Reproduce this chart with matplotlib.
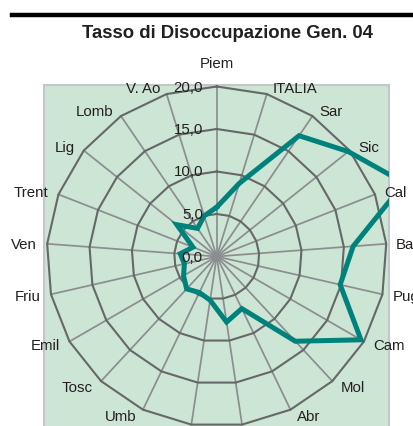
import numpy as np
import matplotlib
matplotlib.use("Agg")
import matplotlib.pyplot as plt
from matplotlib.lines import Line2D

plt.rcParams['font.family'] = ['Liberation Sans', 'DejaVu Sans']

# dati (ordine orario a partire da Piem)
regioni = ['Piem', 'ITALIA', 'Sar', 'Sic', 'Cal', 'Bas', 'Pug', 'Cam', 'Mol', 'Abr',
           'Laz', 'Mar', 'Umb', 'Tosc', 'Emil', 'Friu', 'Ven', 'Trent', 'Lig', 'Lomb', 'V. Ao']
tasso = [5.8, 9.0, 17.2, 19.8, 23.7, 16.1, 14.9, 19.6, 13.6, 6.8,
         7.8, 5.2, 4.7, 5.2, 4.5, 3.9, 4.3, 3.0, 6.0, 4.0, 5.0]
livelli = [0, 5, 10, 15, 20]

W, H = 414, 427
fig = plt.figure(figsize=(W / 100, H / 100), dpi=100)

# area del grafico (sfondo verde)
bg = fig.add_axes([44 / W, -0.05, 345 / W, 1 - 86 / H + 0.05])
bg.set_facecolor('#cde5d4')
bg.set_xticks([])
bg.set_yticks([])
for s in bg.spines.values():
    s.set_color('#c3c7ca')
    s.set_linewidth(1.5)

# radar
cx, cy, r20 = 216.7, 257.5, 170
rmax = 25
rp = r20 * rmax / 20
ax = fig.add_axes([(cx - rp) / W, (H - cy - rp) / H, 2 * rp / W, 2 * rp / H], projection='polar')
ax.set_theta_zero_location('N')
ax.set_theta_direction(-1)
ax.set_ylim(0, rmax)
ax.patch.set_visible(False)
ax.spines['polar'].set_visible(False)
ax.grid(False)
ax.set_xticks([])
ax.set_yticks([])

n = len(regioni)
ang = np.linspace(0, 2 * np.pi, n, endpoint=False)
ang_c = np.append(ang, ang[0])

for v in livelli[1:]:
    ax.plot(ang_c, [v] * (n + 1), color='#656769', lw=1.5, zorder=2)
for a in ang:
    ax.plot([a, a], [0, livelli[-1]], color='#8b8d90', lw=1.25, zorder=1)

linea, = ax.plot(ang_c, tasso + [tasso[0]], color='#00827c', lw=3.6,
                 solid_joinstyle='miter', zorder=5)
linea.set_clip_path(bg.patch)

# etichette categorie
for a, nome in zip(ang, regioni):
    s, c = np.sin(a), np.cos(a)
    if abs(s) < 0.1:
        ha, dx, dy = 'center', 0, 23.5
    else:
        ha = 'left' if s > 0 else 'right'
        dx = np.sign(s) * (4 + 6 * abs(s))
        dy = 7 * c - 0.5
    ax.annotate(nome, xy=(a, livelli[-1]), xytext=(dx, dy), textcoords='offset pixels',
                ha=ha, va='center', fontsize=10.8, color='#231f20',
                annotation_clip=False, zorder=6)

# etichette valori
for v in livelli:
    ax.annotate(f'{v:.1f}'.replace('.', ','), xy=(0, v), xytext=(-13.7, 0),
                textcoords='offset pixels', ha='right', va='center',
                fontsize=10.8, color='#231f20', zorder=6)

fig.text(227 / W, 1 - 33 / H, 'Tasso di Disoccupazione Gen. 04', ha='center', va='center',
         fontsize=13.3, fontweight='bold', color='#231f20')
fig.add_artist(Line2D([12 / W, 1], [1 - 16.2 / H] * 2, color='black', lw=3.2))

fig.savefig('out.png', dpi=100)
